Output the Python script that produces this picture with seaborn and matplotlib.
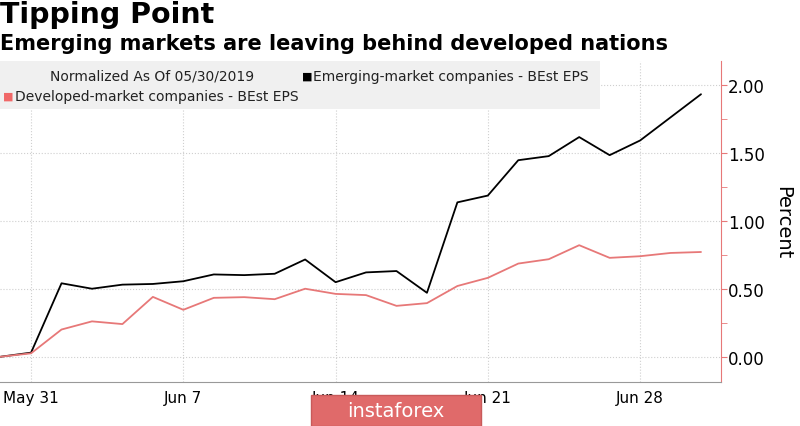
import numpy as np
import pandas as pd
import seaborn as sns
import matplotlib.pyplot as plt
from matplotlib.patches import Rectangle

# trading days, May 30 to Jul 2 2019
dias = ["May 30", "May 31", "Jun 3", "Jun 4", "Jun 5", "Jun 6", "Jun 7",
        "Jun 10", "Jun 11", "Jun 12", "Jun 13", "Jun 14",
        "Jun 17", "Jun 18", "Jun 19", "Jun 20", "Jun 21",
        "Jun 24", "Jun 25", "Jun 26", "Jun 27", "Jun 28",
        "Jul 1", "Jul 2"]

emergentes = [0.00, 0.03, 0.54, 0.50, 0.53, 0.535, 0.555,
              0.605, 0.60, 0.61, 0.715, 0.548,
              0.62, 0.63, 0.47, 1.135, 1.185,
              1.445, 1.475, 1.615, 1.482, 1.59,
              1.76, 1.93]

desenvolvidos = [0.00, 0.025, 0.20, 0.26, 0.24, 0.44, 0.345,
                 0.433, 0.438, 0.423, 0.50, 0.462,
                 0.453, 0.374, 0.394, 0.52, 0.58,
                 0.685, 0.717, 0.82, 0.727, 0.739,
                 0.763, 0.77]

rotulos_x = ["May 31", "Jun 7", "Jun 14", "Jun 21", "Jun 28"]

serie_em = "Emerging-market companies - BEst EPS"
serie_dm = "Developed-market companies - BEst EPS"

dados = pd.DataFrame({
    "dia": list(range(len(dias))) * 2,
    "valor": emergentes + desenvolvidos,
    "serie": [serie_em] * len(dias) + [serie_dm] * len(dias),
})

vermelho = "#e77878"

sns.set_style("white")
plt.rcParams["font.family"] = ["DejaVu Sans"]

fig = plt.figure(figsize=(8, 4.27), dpi=100)
ax = fig.add_axes([0.0, 0.103, 0.901, 0.752])

sns.lineplot(data=dados, x="dia", y="valor", hue="serie",
             palette={serie_em: "black", serie_dm: vermelho},
             linewidth=1.3, legend=False, ax=ax)

# eixo x
pos_x = [dias.index(r) for r in rotulos_x]
ax.set_xticks(pos_x)
ax.set_xticklabels(rotulos_x, fontsize=11, color="black")
ax.set_xticks(range(len(dias)), minor=True)
ax.tick_params(axis="x", which="both", direction="out", length=5,
               color="#999999", pad=1)
ax.set_xlabel("")

# eixo y a direita
ax.yaxis.tick_right()
ax.yaxis.set_label_position("right")
ax.set_yticks([0, 0.5, 1.0, 1.5, 2.0])
ax.set_yticklabels(["0.00", "0.50", "1.00", "1.50", "2.00"], fontsize=12,
                   color="black")
ax.set_yticks(np.arange(0, 2.01, 0.25), minor=True)
ax.tick_params(axis="y", which="both", direction="out", length=4,
               color=vermelho, pad=1)
ax.set_ylabel("Percent", fontsize=14, rotation=-90, labelpad=20,
              color="black")

ax.set_xlim(-0.02, 23.65)
ax.set_ylim(-0.186, 2.175)

ax.grid(True, which="major", linestyle=":", color="#cfcfcf", linewidth=0.8)

for lado in ["top", "left"]:
    ax.spines[lado].set_visible(False)
ax.spines["right"].set_color(vermelho)
ax.spines["bottom"].set_color("#999999")

# titulos
fig.text(0.0, 0.997, "Tipping Point", fontsize=20.5, fontweight="bold",
         va="top", ha="left", color="black")
fig.text(0.0, 0.92, "Emerging markets are leaving behind developed nations",
         fontsize=15, fontweight="bold", va="top", ha="left", color="black")

# caixa da legenda
fig.patches.append(Rectangle((0.0, 1 - 110 / 427), 600 / 800, 48 / 427,
                             transform=fig.transFigure, facecolor="#f0f0f0",
                             edgecolor="none", zorder=0.5))
fig.text(50 / 800, 1 - 77 / 427, "Normalized As Of 05/30/2019",
         fontsize=10, va="center", ha="left", color="#222222")
fig.text(302 / 800, 1 - 77 / 427, "\u25A0", fontsize=8, va="center",
         ha="left", color="black")
fig.text(313 / 800, 1 - 77 / 427, serie_em,
         fontsize=10, va="center", ha="left", color="#222222")
fig.text(3 / 800, 1 - 97 / 427, "\u25A0", fontsize=8, va="center",
         ha="left", color="#f06868")
fig.text(15 / 800, 1 - 97 / 427, serie_dm,
         fontsize=10, va="center", ha="left", color="#222222")

# marca d'agua
fig.patches.append(Rectangle((311 / 800, 0.0), 170 / 800, 31 / 427,
                             transform=fig.transFigure, facecolor="#e06a6a",
                             edgecolor="#c85a5a", zorder=5))
fig.text(396 / 800, 15 / 427, "instaforex", fontsize=14, color="white",
         va="center", ha="center", zorder=6)

plt.savefig("out.png", dpi=100)
